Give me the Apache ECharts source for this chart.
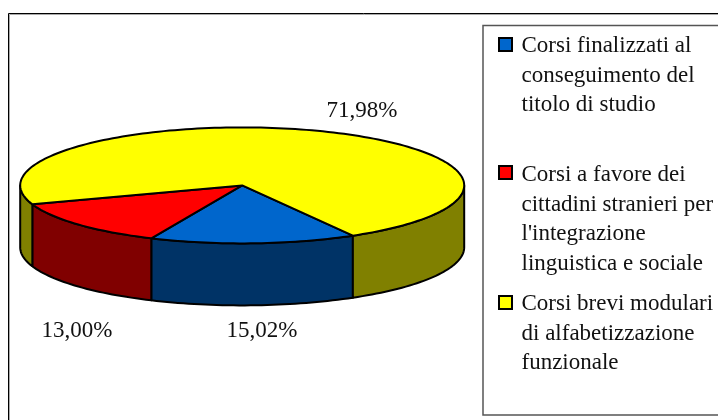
<!DOCTYPE html>
<html><head><meta charset="utf-8">
<style>html,body{margin:0;padding:0;background:#fff;overflow:hidden}#c{width:718px;height:420px}</style>
<script src="https://cdn.jsdelivr.net/npm/echarts@6/dist/echarts.min.js"></script>
</head><body><div id="c"></div>
<script>
const categories = ['Corsi finalizzati al\nconseguimento del\ntitolo di studio',
  'Corsi a favore dei\ncittadini stranieri per\nl\'integrazione\nlinguistica e sociale',
  'Corsi brevi modulari\ndi alfabetizzazione\nfunzionale'];
const values = [15.02, 13.00, 71.98];
const valueLabels = ['15,02%', '13,00%', '71,98%'];
const topColors = ['#0066cc', '#ff0000', '#ffff00'];
const sideColors = ['#003366', '#800000', '#808000'];

const pie = {cx: 242.2, cy: 185.4, rx: 222, ry: 58, depth: 62, start: 60.1};
const labelAnchors = [[262, 331], [77, 331], [362, 111]];
const legendLayout = {swatchX: 499, textX: 521.5, size: 13, swatchY: [44.5, 172.5, 302.5], textY: [46, 175, 304], lineHeight: 29.7};
const FONT = '"Liberation Serif", serif';
const FONT_PX = 23;
const total = values.reduce((a, b) => a + b, 0);
const spans = [];
values.reduce((a, v) => { const e = a + v / total * 360; spans.push([a, e]); return e; }, pie.start);

const pt = (deg, dy) => {
  const r = deg * Math.PI / 180;
  return [pie.cx + pie.rx * Math.cos(r), pie.cy + pie.ry * Math.sin(r) + (dy || 0)];
};
const arc = (a, b, dy) => {
  const out = [], n = Math.max(2, Math.ceil(Math.abs(b - a) / 1.5));
  for (let i = 0; i <= n; i++) out.push(pt(a + (b - a) * i / n, dy));
  return out;
};
const sideShapes = (a, b) => {
  const res = [];
  for (const off of [0, 360]) {
    const s = Math.max(a, off), e = Math.min(b, off + 180);
    if (e > s) res.push(arc(s, e, 0).concat(arc(e, s, pie.depth)));
  }
  return res;
};
const line = {stroke: '#000', lineWidth: 2, lineJoin: 'round'};

function renderSide(params, api) {
  const i = api.value(0);
  const [a, b] = spans[i];
  const children = [];
  sideShapes(a, b).forEach(points => children.push({
    type: 'polygon', shape: {points}, style: {fill: sideColors[i], ...line}
  }));
  return {type: 'group', children};
}
function renderTop(params, api) {
  const i = api.value(0);
  const [a, b] = spans[i];
  return {type: 'group', children: [
    {type: 'polygon', shape: {points: [[pie.cx, pie.cy]].concat(arc(a, b, 0))}, style: {fill: topColors[i], ...line}},
    {type: 'text', x: labelAnchors[i][0], y: labelAnchors[i][1],
      style: {text: valueLabels[i], font: FONT_PX + 'px ' + FONT, fill: '#111', align: 'center', verticalAlign: 'middle'}}
  ]};
}

const frameRight = 780, frameBottom = 440;
const legendGraphics = [
  {type: 'rect', shape: {x: 9.5, y: 14.5, width: frameRight, height: frameBottom}, style: {fill: 'none', stroke: '#aaa', lineWidth: 1}},
  {type: 'rect', shape: {x: 8.5, y: 13.5, width: frameRight, height: frameBottom}, style: {fill: 'none', stroke: '#000', lineWidth: 1}},
  {type: 'rect', shape: {x: 483, y: 25.5, width: 300, height: 389.5}, style: {fill: 'none', stroke: '#555', lineWidth: 1.5}}
];
categories.forEach((c, i) => {
  legendGraphics.push({type: 'rect', z: 5, shape: {x: legendLayout.swatchX, y: legendLayout.swatchY[i] - legendLayout.size / 2, width: legendLayout.size, height: legendLayout.size},
    style: {fill: topColors[i], stroke: '#000', lineWidth: 2}});
  c.split('\n').forEach((t, j) => legendGraphics.push({type: 'text', z: 5, x: legendLayout.textX, y: legendLayout.textY[i] + j * legendLayout.lineHeight,
    style: {text: t, font: FONT_PX + 'px ' + FONT, fill: '#111', verticalAlign: 'middle'}}));
});

const chart = echarts.init(document.getElementById('c'), null, {renderer: 'canvas'});
const ids = values.map((v, i) => [i, v]);
chart.setOption({
  animation: false,
  backgroundColor: '#fff',
  graphic: {elements: legendGraphics},
  series: [
    {type: 'custom', coordinateSystem: 'none', renderItem: renderSide, data: ids, z: 2, silent: true},
    {type: 'custom', coordinateSystem: 'none', renderItem: renderTop, data: ids, z: 3, silent: true}
  ]
});
</script></body></html>
